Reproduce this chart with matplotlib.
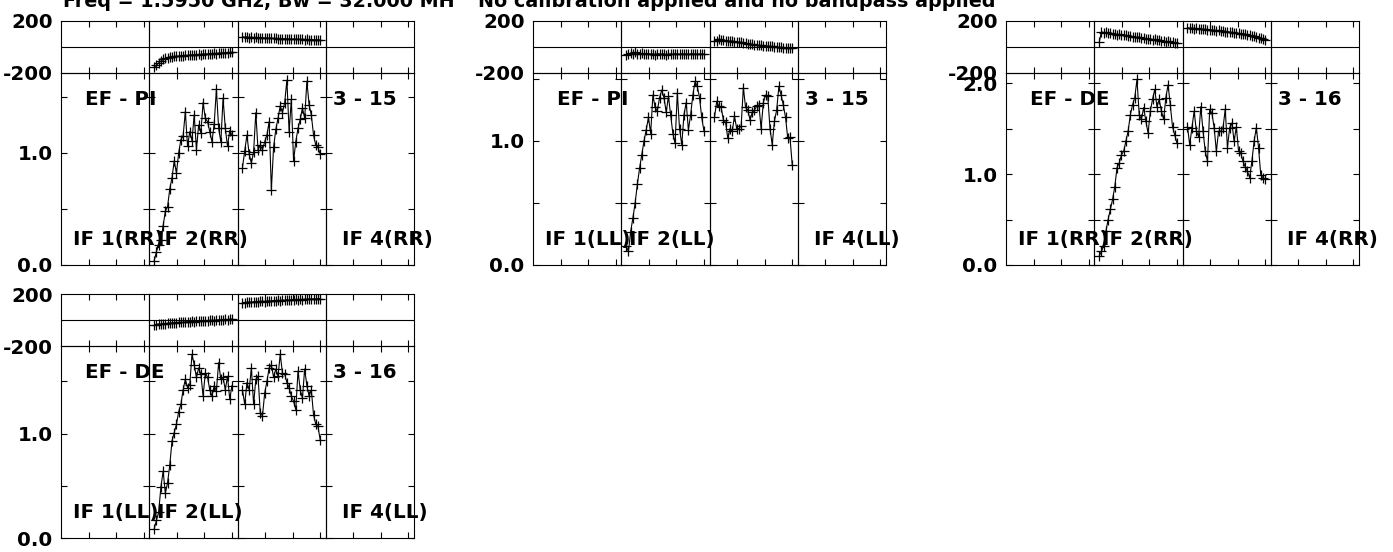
import numpy as np
import matplotlib
matplotlib.use("Agg")
import matplotlib.pyplot as plt

# =====================================================
# DATA (channels 1..36 of IF 2 and IF 3, IF 1 / IF 4 empty)
# =====================================================

CHANNELS = np.arange(1, 37)

# EF - PI, RR
AMP_PI_RR_IF2 = [0.04, 0.12, 0.18, 0.22, 0.35, 0.48, 0.52, 0.68, 0.78, 0.93,
                 0.82, 1.00, 1.12, 1.15, 1.37, 1.06, 1.19, 1.11, 1.34, 1.03,
                 1.25, 1.18, 1.45, 1.31, 1.28, 1.19, 1.10, 1.26, 1.57, 1.22,
                 1.10, 1.49, 1.22, 1.06, 1.20, 1.16]
AMP_PI_RR_IF3 = [0.87, 1.02, 1.16, 0.99, 0.91, 1.01, 1.36, 1.03, 1.07, 1.03,
                 1.10, 1.16, 1.28, 0.67, 1.05, 1.21, 1.31, 1.42, 1.36, 1.45,
                 1.65, 1.19, 1.48, 0.93, 1.10, 1.22, 1.30, 1.40, 1.31, 1.64,
                 1.43, 1.34, 1.16, 1.07, 1.05, 0.99]
PHS_PI_RR_IF2 = [-154, -140, -122, -108, -96, -88, -82, -78, -75, -72,
                 -70, -70, -67, -66, -64, -65, -62, -60, -61, -58,
                 -57, -58, -55, -53, -54, -51, -50, -49, -50, -47,
                 -46, -45, -44, -43, -42, -40]
PHS_PI_RR_IF3 = [78, 75, 77, 73, 76, 72, 74, 70, 72, 71,
                 69, 70, 67, 68, 66, 67, 64, 65, 63, 64,
                 61, 62, 60, 61, 59, 60, 58, 59, 57, 58,
                 56, 57, 55, 56, 55, 54]

# EF - PI, LL
AMP_PI_LL_IF2 = [0.15, 0.11, 0.27, 0.38, 0.50, 0.65, 0.78, 0.89, 1.00, 1.09,
                 1.19, 1.06, 1.37, 1.27, 1.24, 1.35, 1.41, 1.35, 1.23, 1.36,
                 1.21, 1.06, 0.98, 1.39, 1.10, 0.97, 1.21, 1.31, 1.09, 1.21,
                 1.37, 1.48, 1.44, 1.35, 1.19, 1.08]
AMP_PI_LL_IF3 = [1.19, 1.32, 1.28, 1.27, 1.17, 1.15, 1.02, 1.10, 1.08, 1.20,
                 1.10, 1.10, 1.12, 1.43, 1.27, 1.25, 1.17, 1.23, 1.25, 1.28,
                 1.29, 1.10, 1.31, 1.37, 1.36, 1.10, 0.97, 1.16, 1.25, 1.44,
                 1.37, 1.29, 1.19, 1.02, 1.03, 0.81]
PHS_PI_LL_IF2 = [-60, -52, -48, -56, -40, -50, -54, -49, -57, -52,
                 -50, -55, -53, -58, -51, -54, -56, -52, -60, -55,
                 -53, -57, -51, -54, -56, -52, -55, -53, -57, -54,
                 -52, -56, -54, -55, -53, -55]
PHS_PI_LL_IF3 = [50, 48, 62, 55, 52, 50, 47, 45, 46, 42,
                 40, 38, 36, 30, 28, 25, 22, 20, 18, 15,
                 14, 12, 10, 8, 6, 5, 4, 2, 0, -2,
                 -3, -4, -5, -6, -6, -8]

# EF - DE, RR
AMP_DE_RR_IF2 = [0.10, 0.15, 0.21, 0.37, 0.50, 0.61, 0.72, 0.86, 1.07, 1.12,
                 1.21, 1.25, 1.36, 1.47, 1.65, 1.76, 1.84, 2.04, 1.65, 1.60,
                 1.73, 1.58, 1.45, 1.69, 1.82, 1.93, 1.74, 1.82, 1.69, 1.60,
                 1.84, 1.98, 1.76, 1.52, 1.43, 1.34]
AMP_DE_RR_IF3 = [1.52, 1.32, 1.51, 1.69, 1.47, 1.41, 1.74, 1.47, 1.25, 1.14,
                 1.71, 1.67, 1.51, 1.25, 1.47, 1.47, 1.51, 1.71, 1.29, 1.51,
                 1.56, 1.36, 1.52, 1.25, 1.23, 1.14, 1.08, 1.03, 0.96, 1.14,
                 1.36, 1.51, 1.29, 0.99, 0.96, 0.94]
PHS_DE_RR_IF2 = [38, 116, 111, 112, 106, 107, 101, 103, 96, 97,
                 93, 89, 90, 84, 85, 79, 78, 74, 76, 69,
                 70, 65, 63, 64, 57, 58, 51, 53, 47, 48,
                 41, 43, 36, 38, 32, 30]
PHS_DE_RR_IF3 = [148, 145, 146, 142, 143, 139, 140, 136, 137, 133,
                 131, 132, 128, 126, 127, 122, 121, 118, 119, 114,
                 112, 110, 107, 105, 103, 99, 97, 94, 90, 86,
                 82, 78, 72, 66, 60, 52]

# EF - DE, LL
AMP_DE_LL_IF2 = [0.09, 0.17, 0.25, 0.49, 0.64, 0.43, 0.53, 0.70, 0.93, 1.01,
                 1.09, 1.21, 1.28, 1.42, 1.52, 1.44, 1.47, 1.76, 1.66, 1.54,
                 1.63, 1.57, 1.36, 1.58, 1.54, 1.42, 1.36, 1.46, 1.41, 1.68,
                 1.52, 1.54, 1.42, 1.55, 1.33, 1.46]
AMP_DE_LL_IF3 = [1.42, 1.28, 1.49, 1.42, 1.63, 1.28, 1.52, 1.55, 1.20, 1.17,
                 1.39, 1.50, 1.63, 1.66, 1.54, 1.62, 1.55, 1.76, 1.58, 1.57,
                 1.49, 1.44, 1.36, 1.31, 1.23, 1.60, 1.42, 1.34, 1.62, 1.46,
                 1.36, 1.42, 1.18, 1.09, 1.07, 0.94]
PHS_DE_LL_IF2 = [-42, -36, -30, -32, -27, -28, -25, -22, -24, -20,
                 -21, -18, -17, -19, -15, -13, -14, -11, -12, -9,
                 -8, -10, -6, -5, -7, -3, -2, -4, 0, 1,
                 -1, 3, 4, 2, 6, 8]
PHS_DE_LL_IF3 = [128, 134, 136, 138, 135, 140, 142, 139, 144, 145,
                 141, 146, 148, 145, 150, 149, 152, 148, 153, 151,
                 155, 152, 156, 154, 158, 155, 159, 157, 160, 158,
                 162, 160, 163, 161, 164, 165]

BASELINES = ["EF - PI", "EF - PI", "EF - DE", "EF - DE"]
SOURCES = ["3 - 15", "3 - 15", "3 - 16", "3 - 16"]
POLS = ["RR", "LL", "RR", "LL"]
AMP_TOP = [1.714, 1.548, 2.11, 1.84]

TITLE_LEFT = "Freq = 1.5950 GHz, Bw = 32.000 MH"
TITLE_RIGHT = "No calibration applied and no bandpass applied"

# =====================================================
# LAYOUT (pixels)
# =====================================================

FIG_W, FIG_H = 1393, 552
ORIGINS = [(61, 21), (533, 21), (1006, 21), (61, 294)]
PANEL_W = 353
PHASE_H = 52
AMP_H = 192
SEG_W = PANEL_W / 4

X_LO, X_HI = -1.25, 38.5
X_TICKS = [X_LO + (X_HI - X_LO) * f / 32 for f in (10, 20, 30)]

IF_LABEL_X = [0.136, 0.09, None, 0.18]

plt.rcParams["font.family"] = ["DejaVu Sans"]
plt.rcParams["font.weight"] = "bold"
plt.rcParams["font.size"] = 14.3

fig = plt.figure(figsize=(FIG_W / 100, FIG_H / 100), dpi=100)

panels = [
    (AMP_PI_RR_IF2, AMP_PI_RR_IF3, PHS_PI_RR_IF2, PHS_PI_RR_IF3),
    (AMP_PI_LL_IF2, AMP_PI_LL_IF3, PHS_PI_LL_IF2, PHS_PI_LL_IF3),
    (AMP_DE_RR_IF2, AMP_DE_RR_IF3, PHS_DE_RR_IF2, PHS_DE_RR_IF3),
    (AMP_DE_LL_IF2, AMP_DE_LL_IF3, PHS_DE_LL_IF2, PHS_DE_LL_IF3),
]


def style(ax):
    ax.set_facecolor("none")
    ax.set_xlim(X_LO, X_HI)
    ax.set_xticks(X_TICKS)
    ax.tick_params(direction="in", top=True, right=True, length=4,
                   width=0.8, labelbottom=False, pad=6)
    for s in ax.spines.values():
        s.set_linewidth(0.8)


for i, (left, top) in enumerate(ORIGINS):
    amp2, amp3, ph2, ph3 = panels[i]
    ymax = AMP_TOP[i]
    for k in range(4):
        x0 = (left + k * SEG_W) / FIG_W
        w = SEG_W / FIG_W
        ax_ph = fig.add_axes([x0, 1 - (top + PHASE_H) / FIG_H, w, PHASE_H / FIG_H])
        ax_am = fig.add_axes([x0, 1 - (top + PHASE_H + AMP_H) / FIG_H, w, AMP_H / FIG_H])

        # phase
        style(ax_ph)
        ax_ph.set_ylim(-200, 200)
        ax_ph.set_yticks([-200, 200])
        ax_ph.tick_params(axis="y", length=0)
        ax_ph.axhline(0, color="black", lw=0.8)
        if k == 0:
            ax_ph.set_yticklabels(["-200", "200"])
        else:
            ax_ph.tick_params(labelleft=False)

        # amplitude
        style(ax_am)
        ax_am.set_ylim(0, ymax)
        yt = [v for v in (0.0, 0.5, 1.0, 1.5, 2.0) if v <= ymax]
        ax_am.set_yticks(yt)
        if k == 0:
            ax_am.set_yticklabels(["%.1f" % v if v == int(v) else "" for v in yt])
        else:
            ax_am.tick_params(labelleft=False)

        # data
        if k in (1, 2):
            amp = amp2 if k == 1 else amp3
            ph = ph2 if k == 1 else ph3
            ax_am.plot(CHANNELS, amp, color="black", lw=0.8, marker="+",
                       ms=7, mew=0.9)
            ax_ph.plot(CHANNELS, ph, color="black", lw=0.8, marker="+",
                       ms=7, mew=0.9)

        # labels
        if k == 0:
            ax_am.text(0.27, 0.86, BASELINES[i], transform=ax_am.transAxes,
                       ha="left", va="center")
        if k == 3:
            ax_am.text(0.08, 0.86, SOURCES[i], transform=ax_am.transAxes,
                       ha="left", va="center")
        if IF_LABEL_X[k] is not None:
            ax_am.text(IF_LABEL_X[k], 0.135, "IF %d(%s)" % (k + 1, POLS[i]),
                       transform=ax_am.transAxes, ha="left", va="center")

# =====================================================
# TITLE (cut at the top edge like the original)
# =====================================================

fig.text(63 / FIG_W, 1 - 7 / FIG_H, TITLE_LEFT, ha="left", va="baseline",
         fontsize=13.8)
fig.text(478 / FIG_W, 1 - 7 / FIG_H, TITLE_RIGHT, ha="left", va="baseline",
         fontsize=13.8)

fig.savefig("out.png", dpi=100)
